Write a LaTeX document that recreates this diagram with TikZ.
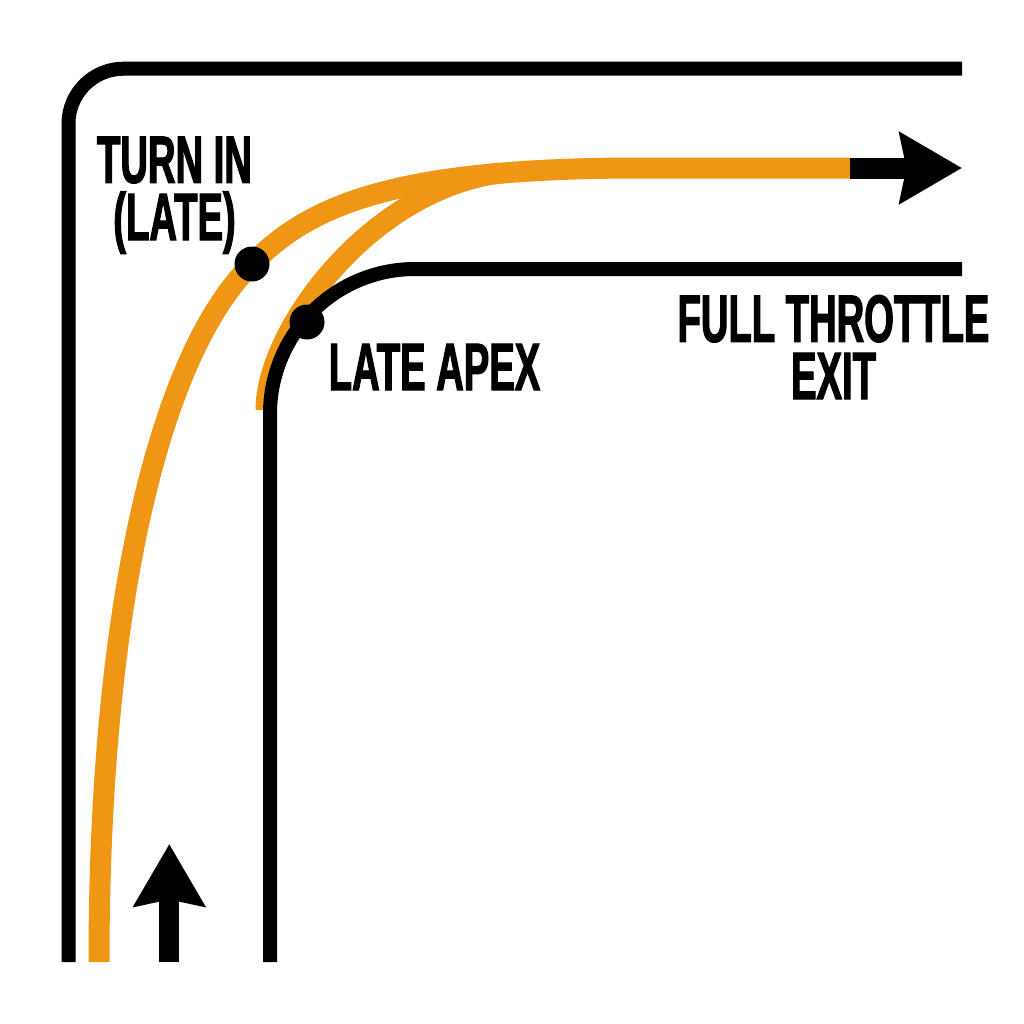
\documentclass[tikz,border=0pt]{standalone}
\usepackage{fontspec}
\newfontfamily\condfont[FakeStretch=0.57,FakeBold=1.6]{Liberation Sans}
\usetikzlibrary{arrows.meta}
\definecolor{racing}{RGB}{239,150,20}
\tikzset{
  wall/.style={line width=7pt, line cap=butt, draw=black},
  racingline/.style={line width=10.5pt, draw=racing, line cap=butt},
  dotmark/.style={circle, fill=black, minimum size=17.5pt, inner sep=0pt},
  lbl/.style={font=\condfont\bfseries\fontsize{33.5}{28.6}\selectfont, inner sep=0pt, anchor=base, align=center},
  dirarrow/.style={line width=10pt, draw=black, -{Stealth[length=31pt,width=35pt,inset=3.25pt]}}
}
\begin{document}
\begin{tikzpicture}[x=0.5pt,y=-0.5pt]
  \fill[white] (0,0) rectangle (1024,1024);
  \useasboundingbox (0,0) rectangle (1024,1024);
  % key coordinates
  \coordinate (start) at (99,962);
  \coordinate (ti) at (252,264);
  \coordinate (straight) at (640,168);
  \coordinate (orangeend) at (850,168);
  \coordinate (tip) at (962,168);
  \coordinate (apexstart) at (266,410);
  \coordinate (merge) at (500,173);
  \coordinate (ap) at (307,322);
  \coordinate (upbase) at (169.3,962);
  \coordinate (uptip) at (169.3,844);
  % racing lines
  \draw[racingline] (start) .. controls (99,612) and (158,356) .. (ti)
        .. controls (308,207) and (390,168) .. (straight) -- (orangeend);
  \draw[racingline] (apexstart) .. controls (266,330) and (370,190) .. (merge);
  % walls
  \draw[wall, rounded corners=27.5pt] (68.5,962) -- (68.5,68.7) -- (962,68.7);
  \draw[wall, rounded corners=72.5pt] (270,962) -- (270,269) -- (962,269);
  % arrows
  \draw[dirarrow, line width=10.5pt] (orangeend) -- (tip);
  \draw[dirarrow] (upbase) -- (uptip);
  % dots
  \node[dotmark] (turnin) at (ti) {};
  \node[dotmark] (apex) at (ap) {};
  % labels (base anchor = baseline of last line)
  \node[lbl] (turnlbl) at (174.5,240) {TURN IN\\(LATE)};
  \node[lbl] (apexlbl) at (434.5,390) {LATE APEX};
  \node[lbl] (exitlbl) at (833.5,399) {FULL THROTTLE\\EXIT};
\end{tikzpicture}
\end{document}
